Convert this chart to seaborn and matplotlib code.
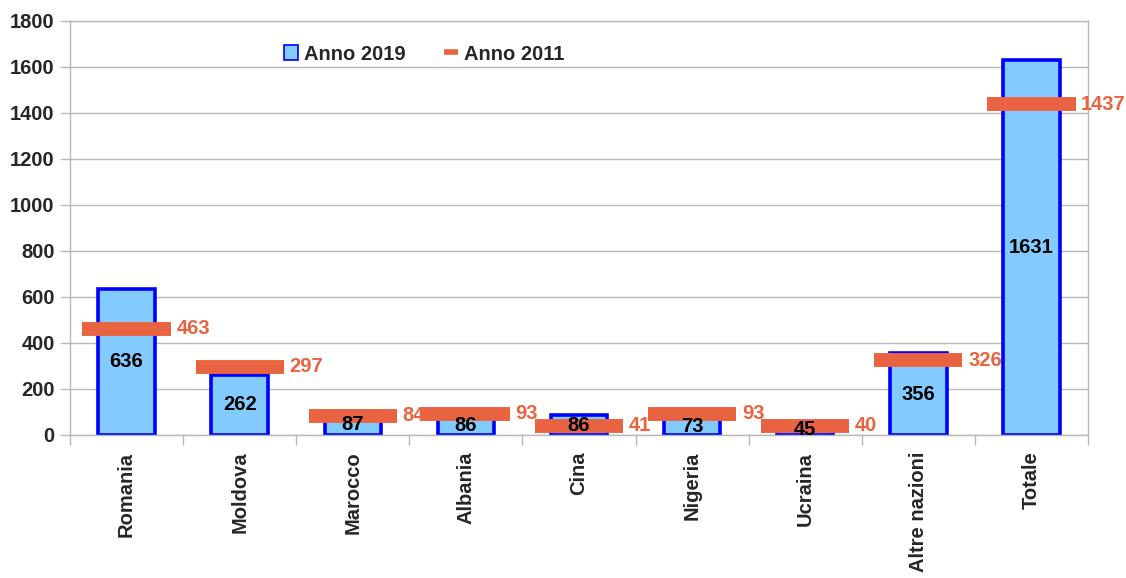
import numpy as np
import pandas as pd
import matplotlib
matplotlib.use("Agg")
import matplotlib.pyplot as plt
import seaborn as sns
from matplotlib.patches import Patch
from matplotlib.lines import Line2D

# data
countries = ["Romania", "Moldova", "Marocco", "Albania", "Cina",
             "Nigeria", "Ucraina", "Altre nazioni", "Totale"]
anno_2019 = [636, 262, 87, 86, 86, 73, 45, 356, 1631]
anno_2011 = [463, 297, 84, 93, 41, 93, 40, 326, 1437]
y_ticks = [0, 200, 400, 600, 800, 1000, 1200, 1400, 1600, 1800]

BAR_FILL = "#83caff"
BAR_EDGE = "#0000ff"
ORANGE = "#ea6340"
GRID = "#b8b8b8"
FS = 14.5

sns.set_theme(style="white")
plt.rcParams["font.family"] = ["Liberation Sans", "DejaVu Sans"]
plt.rcParams["font.weight"] = "bold"

df = pd.DataFrame({"paese": countries, "v2019": anno_2019, "v2011": anno_2011})

fig = plt.figure(figsize=(11.26, 5.78), dpi=100)
ax = fig.add_axes([70 / 1126, 1 - 435 / 578, (1088 - 70) / 1126, (435 - 21) / 578])

sns.barplot(data=df, x="paese", y="v2019", ax=ax, width=0.5,
            color=BAR_FILL, edgecolor=BAR_EDGE, linewidth=2.6, saturation=1,
            zorder=2)

# 2011 values as thick horizontal markers
xs = np.arange(len(countries))
ax.hlines(df["v2011"], xs - 0.39, xs + 0.39, colors=ORANGE, linewidth=10,
          zorder=3)

for x, v19, v11 in zip(xs, anno_2019, anno_2011):
    ax.text(x, v19 / 2, str(v19), ha="center", va="center", fontsize=FS,
            fontweight="bold", color="black", zorder=4)
    ax.text(x + 0.44, v11, str(v11), ha="left", va="center", fontsize=FS,
            fontweight="bold", color=ORANGE, zorder=4)

ax.set_xlim(-0.5, len(countries) - 0.5)
ax.set_ylim(0, 1800)
ax.set_yticks(y_ticks)
ax.set_xlabel("")
ax.set_ylabel("")
ax.yaxis.grid(True, color=GRID, linewidth=1)
ax.set_axisbelow(True)

for s in ax.spines.values():
    s.set_color(GRID)
    s.set_linewidth(1)
    s.set_visible(True)

ax.tick_params(axis="y", which="major", length=7, color=GRID, width=1,
               labelsize=FS, pad=4, left=True)
ax.set_xticks(xs)
ax.set_xticklabels(countries, rotation=90, fontsize=FS, fontweight="bold")
ax.tick_params(axis="x", which="major", length=0, pad=12)
ax.set_xticks(np.arange(-0.5, len(countries), 1), minor=True)
ax.tick_params(axis="x", which="minor", length=7, color=GRID, width=1,
               bottom=True)
for lab in ax.get_yticklabels():
    lab.set_fontweight("bold")

handles = [
    Patch(facecolor=BAR_FILL, edgecolor=BAR_EDGE, linewidth=1.2, label="Anno 2019"),
    Line2D([0], [0], color=ORANGE, linewidth=4, solid_capstyle="butt",
           label="Anno 2011"),
]
leg = ax.legend(handles=handles, ncol=2, frameon=False, loc="center",
                prop={"size": FS, "weight": "bold"}, handlelength=0.7,
                handleheight=0.7, handletextpad=0.3, columnspacing=1.9)
leg.set_bbox_to_anchor((424 / 1126, 1 - 54 / 578), transform=fig.transFigure)

fig.savefig("out.png", dpi=100)
